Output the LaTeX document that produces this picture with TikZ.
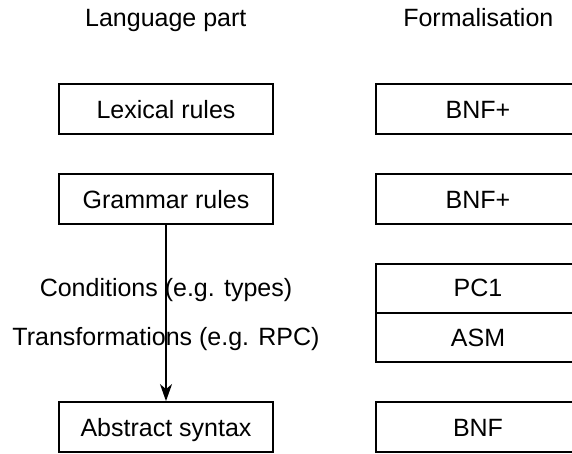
\documentclass[tikz,border=0pt]{standalone}
\usepackage{fontspec}
\setmainfont{Liberation Sans}
\usetikzlibrary{arrows.meta}
\begin{document}
\begin{tikzpicture}[x=1pt,y=-1pt,
  every node/.style={font=\fontsize{25}{30}\selectfont, inner sep=0pt},
  partbox/.style={draw, line width=1.8pt, minimum width=214pt, minimum height=50pt,
    text height=18.4pt, text depth=0pt},
  formbox/.style={draw, line width=1.8pt, minimum width=204.6pt, minimum height=50pt,
    text height=18.4pt, text depth=0pt},
  formcell/.style={draw, line width=1.8pt, minimum width=204.6pt, minimum height=49pt,
    text height=17pt, text depth=0pt},
  heading/.style={anchor=base},
  remark/.style={anchor=base},
  flow/.style={line width=1.8pt, -{Stealth[length=17pt, width=12pt, inset=5pt]}}]
\useasboundingbox (0,0) rectangle (572,453);

% column headings
\node[heading] (hlang) at (165.8,26.7) {Language part};
\node[heading] (hform) at (478.3,26.7) {Formalisation};

% language parts
\node[partbox] (lex) at (166,109.2) {Lexical rules};
\node[partbox] (gram) at (166,199) {Grammar rules};
\node[partbox] (abs) at (166,427) {Abstract syntax};

% formalisations
\node[formbox] (flex) at (478,109.2) {BNF+};
\node[formbox] (fgram) at (478,199) {BNF+};
\node[formcell] (fpc) at (478,288.3) {PC1};
\node[formcell] (fasm) at (478,337.8) {ASM};
\node[formbox] (fabs) at (478,427) {BNF};

% remarks along the derivation
\node[remark] (cond) at (166,296) {Conditions (e.g. types)};
\node[remark] (trans) at (166,345) {Transformations (e.g. RPC)};

\draw[flow] (gram.south) -- (abs.north);
\end{tikzpicture}
\end{document}
